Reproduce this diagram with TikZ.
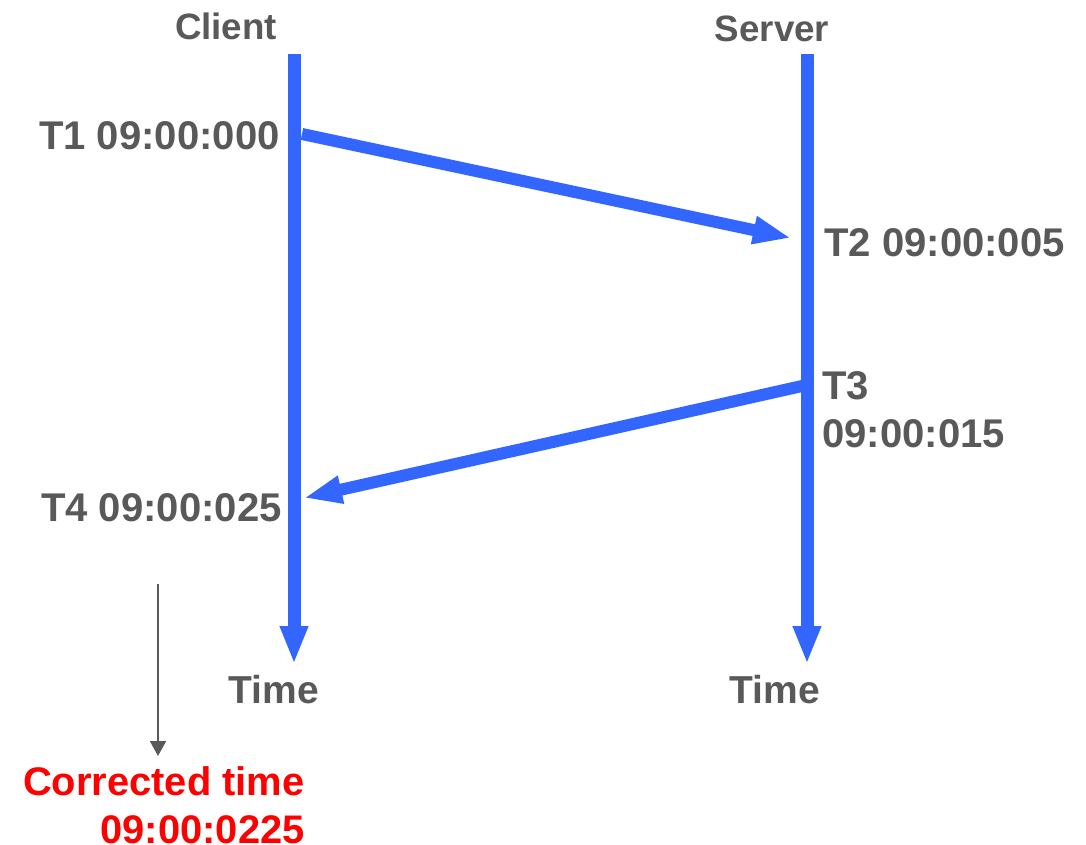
\documentclass[tikz,border=0pt]{standalone}
\usepackage{fontspec}
\setmainfont{Liberation Sans}
\usetikzlibrary{arrows.meta}
\definecolor{lineblue}{HTML}{3366FF}
\definecolor{labelgray}{HTML}{595959}
\definecolor{alertred}{HTML}{FF0000}
\begin{document}
\begin{tikzpicture}[x=0.02cm,y=-0.02cm,
  title/.style={inner sep=0, font=\fontsize{20.9pt}{25pt}\selectfont\bfseries, text=labelgray},
  stamp/.style={inner sep=0, font=\fontsize{22.8pt}{27pt}\selectfont\bfseries, text=labelgray},
  axislbl/.style={inner sep=0, font=\fontsize{22.2pt}{26pt}\selectfont\bfseries, text=labelgray},
  result/.style={inner sep=0, font=\fontsize{22.7pt}{26pt}\selectfont\bfseries, text=alertred},
  timeline/.style={draw=lineblue, line width=0.26cm, -{Triangle[length=0.76cm,width=0.52cm]}},
  message/.style={draw=lineblue, line width=0.24cm, -{Triangle[length=0.76cm,width=0.52cm]}},
  pointer/.style={draw=labelgray, line width=0.04cm, -{Triangle[length=0.3cm,width=0.32cm]}}]
\useasboundingbox (0,0) rectangle (1086,845);

% headings
\node[title, anchor=base] (client) at (226,39) {Client};
\node[title, anchor=base] (server) at (772,41) {Server};

% time axes
\coordinate (ctop) at (294,54);
\coordinate (cbot) at (294,664);
\coordinate (stop) at (807,54);
\coordinate (sbot) at (807,664);
\draw[timeline] (ctop) -- (cbot);
\draw[timeline] (stop) -- (sbot);
\node[axislbl, anchor=base] (ctime) at (274,703) {Time};
\node[axislbl, anchor=base] (stime) at (775,703) {Time};

% request and reply
\coordinate (send) at (302,134);
\coordinate (recv) at (791,238);
\coordinate (reply) at (802,386);
\coordinate (back) at (304,498);
\draw[message] (send) -- (recv);
\draw[message] (reply) -- (back);

% timestamps
\node[stamp, anchor=base east] (t1) at (280,149) {T1 09:00:000};
\node[stamp, anchor=base west] (t2) at (824,256) {T2 09:00:005};
\node[stamp, anchor=base west] (t3) at (822,399) {T3};
\node[stamp, anchor=base west] (t3b) at (822,447) {09:00:015};
\node[stamp, anchor=base east] (t4) at (282,521) {T4 09:00:025};

% corrected result
\coordinate (pstart) at (158,584);
\coordinate (pend) at (158,756);
\draw[pointer] (pstart) -- (pend);
\node[result, anchor=base east] (corr) at (305,795) {Corrected time};
\node[result, anchor=base east] (corrb) at (305,843) {09:00:0225};
\end{tikzpicture}
\end{document}
